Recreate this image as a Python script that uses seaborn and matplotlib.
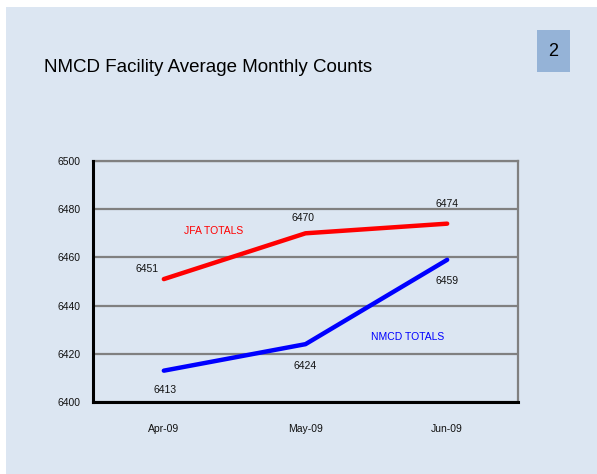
import matplotlib.pyplot as plt
import matplotlib.patches as mpatches
import numpy as np
import pandas as pd
import seaborn as sns

months = ['Apr-09', 'May-09', 'Jun-09']
jfa_totals = [6451, 6470, 6474]
nmcd_totals = [6413, 6424, 6459]

df = pd.DataFrame({
    'month': months * 2,
    'count': jfa_totals + nmcd_totals,
    'series': ['JFA TOTALS'] * 3 + ['NMCD TOTALS'] * 3,
})
df['pos'] = df['month'].map({m: i for i, m in enumerate(months)})

sns.set_style('white')
plt.rcParams['font.family'] = ['Liberation Sans', 'DejaVu Sans']

bg = '#dce6f2'
fig = plt.figure(figsize=(5.97, 4.74), dpi=100, facecolor='white')
# slide panel
fig.patches.append(mpatches.Rectangle((6 / 597, 0), 1, 1 - 7 / 474, transform=fig.transFigure,
                                      facecolor=bg, edgecolor='none', zorder=-10))
# page number box
fig.patches.append(mpatches.Rectangle((537 / 597, 1 - 72 / 474), 33 / 597, 42 / 474,
                                      transform=fig.transFigure, facecolor='#95b3d7',
                                      edgecolor='none'))
fig.text(553.5 / 597, 1 - 51 / 474, '2', ha='center', va='center', fontsize=13, color='black')
fig.text(44 / 597, 1 - 68 / 474, 'NMCD Facility Average Monthly Counts', ha='left',
         va='center', fontsize=13.5, color='black')

ax = fig.add_axes([93 / 597, 1 - 402 / 474, 425 / 597, 241 / 474])
ax.set_facecolor(bg)

sns.lineplot(data=df, x='pos', y='count', hue='series',
             palette={'JFA TOTALS': '#ff0000', 'NMCD TOTALS': '#0000ff'},
             linewidth=3.2, legend=False, ax=ax, zorder=3)

ax.set_xlim(-0.5, 2.5)
ax.set_ylim(6400, 6500)
ax.set_yticks(np.arange(6400, 6501, 20))
ax.set_xticks([0, 1, 2])
ax.set_xticklabels(months)
ax.set_xticks([-0.5, 0.5, 1.5, 2.5], minor=True)
ax.tick_params(axis='x', which='major', length=0, pad=16, labelsize=7.5, labelcolor='#111111')
ax.tick_params(axis='x', which='minor', length=3, width=1.5, color='black', direction='out')
ax.tick_params(axis='y', length=3, width=1.5, color='black', labelsize=7.5, pad=6,
               labelcolor='#111111')
ax.set_xlabel('')
ax.set_ylabel('')

ax.yaxis.grid(True, color='#808080', linewidth=1.6)
ax.set_axisbelow(True)
for side in ['left', 'bottom']:
    ax.spines[side].set_color('black')
    ax.spines[side].set_linewidth(2.2)
    ax.spines[side].set_zorder(4)
for side in ['top', 'right']:
    ax.spines[side].set_color('#808080')
    ax.spines[side].set_linewidth(1.6)

# value labels
lab = dict(fontsize=7.5, color='#111111', ha='center', va='center', textcoords='offset points')
ax.annotate(str(jfa_totals[0]), (0, jfa_totals[0]), xytext=(-12, 7), **lab)
ax.annotate(str(jfa_totals[1]), (1, jfa_totals[1]), xytext=(-2, 11), **lab)
ax.annotate(str(jfa_totals[2]), (2, jfa_totals[2]), xytext=(0, 14), **lab)
ax.annotate(str(nmcd_totals[0]), (0, nmcd_totals[0]), xytext=(1, -14), **lab)
ax.annotate(str(nmcd_totals[1]), (1, nmcd_totals[1]), xytext=(0, -16), **lab)
ax.annotate(str(nmcd_totals[2]), (2, nmcd_totals[2]), xytext=(0, -15), **lab)

ax.text(0.35, 6471, 'JFA TOTALS', color='#ff0000', fontsize=7.5, ha='center', va='center')
ax.text(1.72, 6427, 'NMCD TOTALS', color='#0000ff', fontsize=7.5, ha='center', va='center')

fig.savefig('out.png', dpi=100, facecolor=fig.get_facecolor())
